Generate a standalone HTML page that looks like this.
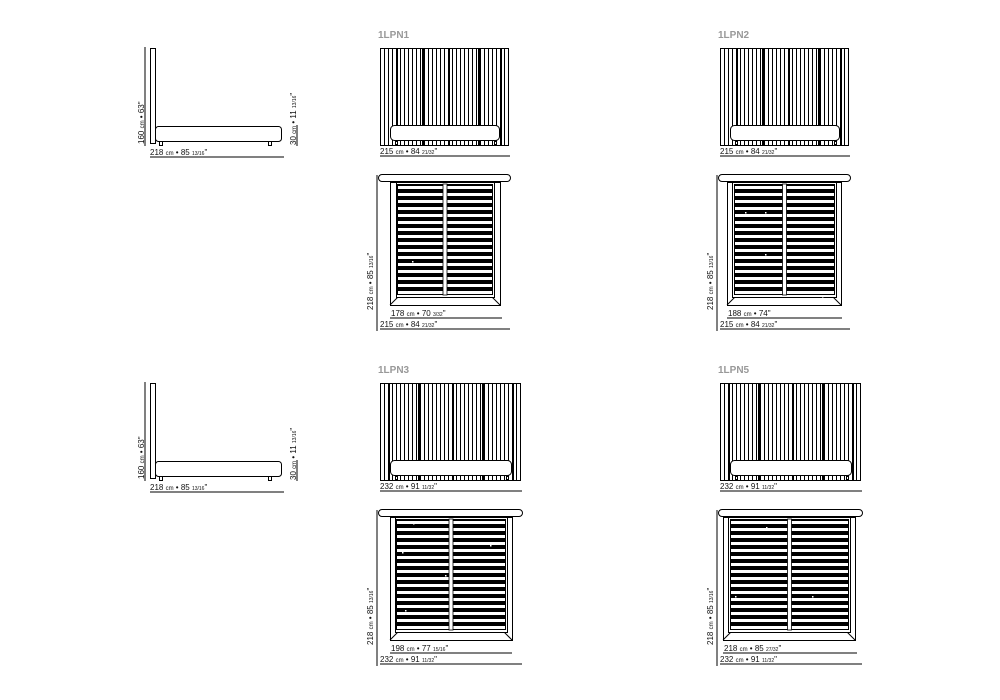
<!DOCTYPE html>
<html><head><meta charset="utf-8"><style>
html,body{margin:0;padding:0;background:#fff;width:1000px;height:700px;overflow:hidden}
svg{display:block}
text{font-family:"Liberation Sans",sans-serif;font-size:8px;fill:#111}
.lbl{font-size:10px;font-weight:bold;fill:#999}
.s{font-size:5px}
.c{font-size:6px}
</style></head><body>
<svg width="1000" height="700" xmlns="http://www.w3.org/2000/svg">
<defs>
<pattern id="vs" patternUnits="userSpaceOnUse" x="0" y="0" width="4" height="10"><rect x="0" y="0" width="1" height="10" fill="#000"/></pattern>
<pattern id="hs" patternUnits="userSpaceOnUse" x="0" y="0" width="10" height="7"><rect x="0" y="0" width="10" height="4" fill="#000"/></pattern>
</defs>
<g stroke="#000" fill="none" stroke-width="1">

<g>
<line x1="145" y1="47" x2="145" y2="146"/>
<rect x="150.5" y="48.5" width="5" height="95" fill="#fff"/>
<rect x="155.5" y="126.5" width="126" height="15" rx="3" fill="#fff"/>
<rect x="159.5" y="141.5" width="3" height="4"/><rect x="268.5" y="141.5" width="3" height="4"/>
<line x1="150" y1="157" x2="284" y2="157"/>
<line x1="297" y1="125" x2="297" y2="146"/>
</g>
<g transform="translate(0,335)">
<line x1="145" y1="47" x2="145" y2="146"/>
<rect x="150.5" y="48.5" width="5" height="95" fill="#fff"/>
<rect x="155.5" y="126.5" width="126" height="15" rx="3" fill="#fff"/>
<rect x="159.5" y="141.5" width="3" height="4"/><rect x="268.5" y="141.5" width="3" height="4"/>
<line x1="150" y1="157" x2="284" y2="157"/>
<line x1="297" y1="125" x2="297" y2="146"/>
</g>

<g transform="translate(380,0)">
<rect x="0.5" y="48.5" width="128" height="97" fill="url(#vs)"/>
<g stroke-width="2"><line x1="17" y1="48" x2="17" y2="145"/><line x1="43" y1="48" x2="43" y2="145"/><line x1="69" y1="48" x2="69" y2="145"/><line x1="99" y1="48" x2="99" y2="145"/><line x1="121" y1="48" x2="121" y2="145"/></g>
<rect x="10.5" y="125.5" width="109" height="15" rx="4" fill="#fff"/>
<rect x="15.5" y="141.5" width="2" height="3" fill="#fff"/><rect x="114.5" y="141.5" width="2" height="3" fill="#fff"/>
<line x1="0" y1="156" x2="130" y2="156"/>
</g>
<g transform="translate(720,0)">
<rect x="0.5" y="48.5" width="128" height="97" fill="url(#vs)"/>
<g stroke-width="2"><line x1="17" y1="48" x2="17" y2="145"/><line x1="43" y1="48" x2="43" y2="145"/><line x1="69" y1="48" x2="69" y2="145"/><line x1="99" y1="48" x2="99" y2="145"/><line x1="121" y1="48" x2="121" y2="145"/></g>
<rect x="10.5" y="125.5" width="109" height="15" rx="4" fill="#fff"/>
<rect x="15.5" y="141.5" width="2" height="3" fill="#fff"/><rect x="114.5" y="141.5" width="2" height="3" fill="#fff"/>
<line x1="0" y1="156" x2="130" y2="156"/>
</g>
<g transform="translate(380,335)">
<rect x="0.5" y="48.5" width="140" height="97" fill="url(#vs)"/>
<g stroke-width="2"><line x1="9" y1="48" x2="9" y2="145"/><line x1="39" y1="48" x2="39" y2="145"/><line x1="73" y1="48" x2="73" y2="145"/><line x1="103" y1="48" x2="103" y2="145"/><line x1="133" y1="48" x2="133" y2="145"/></g>
<rect x="10.5" y="125.5" width="121" height="15" rx="4" fill="#fff"/>
<rect x="15.5" y="141.5" width="2" height="3" fill="#fff"/><rect x="126.5" y="141.5" width="2" height="3" fill="#fff"/>
<line x1="0" y1="156" x2="142" y2="156"/>
</g>
<g transform="translate(720,335)">
<rect x="0.5" y="48.5" width="140" height="97" fill="url(#vs)"/>
<g stroke-width="2"><line x1="9" y1="48" x2="9" y2="145"/><line x1="39" y1="48" x2="39" y2="145"/><line x1="73" y1="48" x2="73" y2="145"/><line x1="103" y1="48" x2="103" y2="145"/><line x1="133" y1="48" x2="133" y2="145"/></g>
<rect x="10.5" y="125.5" width="121" height="15" rx="4" fill="#fff"/>
<rect x="15.5" y="141.5" width="2" height="3" fill="#fff"/><rect x="126.5" y="141.5" width="2" height="3" fill="#fff"/>
<line x1="0" y1="156" x2="142" y2="156"/>
</g>

<g transform="translate(380,0)">
<line x1="-3" y1="175" x2="-3" y2="331"/>
<rect x="10.5" y="182.5" width="110" height="123" fill="#fff"/>
<line x1="10" y1="305" x2="18" y2="297"/><line x1="120" y1="305" x2="112" y2="297"/>
<rect x="16.5" y="182.5" width="98" height="115" fill="#fff"/>
<rect x="18" y="185" width="94" height="109" fill="url(#hs)" stroke="none"/>
<rect x="17.5" y="184.5" width="95" height="110"/>
<rect x="63" y="184" width="4" height="111" fill="#fff" stroke-width="0.8"/>
<rect x="-1.5" y="174.5" width="132" height="7" rx="3.5" fill="#fff"/>
<line x1="10" y1="318" x2="122" y2="318"/>
<line x1="0" y1="329" x2="130" y2="329"/>
</g>
<g transform="translate(720,0)">
<line x1="-3" y1="175" x2="-3" y2="331"/>
<rect x="7.5" y="182.5" width="114" height="123" fill="#fff"/>
<line x1="7" y1="305" x2="15" y2="297"/><line x1="121" y1="305" x2="113" y2="297"/>
<rect x="12.5" y="182.5" width="104" height="115" fill="#fff"/>
<rect x="15" y="185" width="99" height="109" fill="url(#hs)" stroke="none"/>
<rect x="14.5" y="184.5" width="100" height="110"/>
<rect x="62.5" y="184" width="4" height="111" fill="#fff" stroke-width="0.8"/>
<rect x="-1.5" y="174.5" width="132" height="7" rx="3.5" fill="#fff"/>
<line x1="7" y1="318" x2="122" y2="318"/>
<line x1="0" y1="329" x2="130" y2="329"/>
</g>
<g transform="translate(380,335)">
<line x1="-3" y1="175" x2="-3" y2="331"/>
<rect x="10.5" y="182.5" width="122" height="123" fill="#fff"/>
<line x1="10" y1="305" x2="18" y2="297"/><line x1="132" y1="305" x2="124" y2="297"/>
<rect x="15.5" y="182.5" width="112" height="115" fill="#fff"/>
<rect x="17" y="185" width="108" height="109" fill="url(#hs)" stroke="none"/>
<rect x="16.5" y="184.5" width="109" height="110"/>
<rect x="69" y="184" width="4" height="111" fill="#fff" stroke-width="0.8"/>
<rect x="-1.5" y="174.5" width="144" height="7" rx="3.5" fill="#fff"/>
<line x1="10" y1="318" x2="132" y2="318"/>
<line x1="0" y1="329" x2="142" y2="329"/>
</g>
<g transform="translate(720,335)">
<line x1="-3" y1="175" x2="-3" y2="331"/>
<rect x="3.5" y="182.5" width="132" height="123" fill="#fff"/>
<line x1="3" y1="305" x2="11" y2="297"/><line x1="135" y1="305" x2="127" y2="297"/>
<rect x="8.5" y="182.5" width="122" height="115" fill="#fff"/>
<rect x="11" y="185" width="117" height="109" fill="url(#hs)" stroke="none"/>
<rect x="10.5" y="184.5" width="118" height="110"/>
<rect x="67.5" y="184" width="4" height="111" fill="#fff" stroke-width="0.8"/>
<rect x="-1.5" y="174.5" width="144" height="7" rx="3.5" fill="#fff"/>
<line x1="3" y1="318" x2="137" y2="318"/>
<line x1="0" y1="329" x2="142" y2="329"/>
</g>
</g>

<g fill="#fff">
<rect x="400" y="186" width="1.5" height="1.5"/><rect x="425" y="186" width="1.5" height="1.5"/><rect x="410" y="193" width="1.5" height="1.5"/><rect x="465" y="200" width="1.5" height="1.5"/><rect x="480" y="256" width="1.5" height="1.5"/><rect x="412" y="261" width="1.5" height="1.5"/><rect x="462" y="277" width="1.5" height="1.5"/>
<rect x="745" y="212" width="1.5" height="1.5"/><rect x="765" y="212" width="1.5" height="1.5"/><rect x="820" y="200" width="1.5" height="1.5"/><rect x="765" y="254" width="1.5" height="1.5"/><rect x="822" y="296" width="1.5" height="1.5"/>
<rect x="413" y="523" width="1.5" height="1.5"/><rect x="402" y="552" width="1.5" height="1.5"/><rect x="445" y="575" width="1.5" height="1.5"/><rect x="490" y="545" width="1.5" height="1.5"/><rect x="405" y="610" width="1.5" height="1.5"/>
<rect x="766" y="527" width="1.5" height="1.5"/><rect x="735" y="596" width="1.5" height="1.5"/><rect x="757" y="563" width="1.5" height="1.5"/><rect x="812" y="596" width="1.5" height="1.5"/><rect x="825" y="635" width="1.5" height="1.5"/>
</g>

<text x="150" y="155">218 <tspan class="c">cm</tspan> • 85 <tspan class="s">13/16</tspan>"</text>
<text x="144" y="144" transform="rotate(-90 144 144)">160 <tspan class="c">cm</tspan> • 63"</text>
<text x="296" y="145" transform="rotate(-90 296 145)">30 <tspan class="c">cm</tspan> • 11 <tspan class="s">13/16</tspan>"</text>
<text x="150" y="490">218 <tspan class="c">cm</tspan> • 85 <tspan class="s">13/16</tspan>"</text>
<text x="144" y="479" transform="rotate(-90 144 479)">160 <tspan class="c">cm</tspan> • 63"</text>
<text x="296" y="480" transform="rotate(-90 296 480)">30 <tspan class="c">cm</tspan> • 11 <tspan class="s">13/16</tspan>"</text>

<text class="lbl" x="378" y="38">1LPN1</text>
<text class="lbl" x="718" y="38">1LPN2</text>
<text class="lbl" x="378" y="373">1LPN3</text>
<text class="lbl" x="718" y="373">1LPN5</text>

<text x="380" y="154">215 <tspan class="c">cm</tspan> • 84 <tspan class="s">21/32</tspan>"</text>
<text x="720" y="154">215 <tspan class="c">cm</tspan> • 84 <tspan class="s">21/32</tspan>"</text>
<text x="380" y="489">232 <tspan class="c">cm</tspan> • 91 <tspan class="s">11/32</tspan>"</text>
<text x="720" y="489">232 <tspan class="c">cm</tspan> • 91 <tspan class="s">11/32</tspan>"</text>

<text x="373" y="310" transform="rotate(-90 373 310)">218 <tspan class="c">cm</tspan> • 85 <tspan class="s">13/16</tspan>"</text>
<text x="713" y="310" transform="rotate(-90 713 310)">218 <tspan class="c">cm</tspan> • 85 <tspan class="s">13/16</tspan>"</text>
<text x="373" y="645" transform="rotate(-90 373 645)">218 <tspan class="c">cm</tspan> • 85 <tspan class="s">13/16</tspan>"</text>
<text x="713" y="645" transform="rotate(-90 713 645)">218 <tspan class="c">cm</tspan> • 85 <tspan class="s">13/16</tspan>"</text>

<text x="391" y="316">178 <tspan class="c">cm</tspan> • 70 <tspan class="s">3/32</tspan>"</text>
<text x="380" y="327">215 <tspan class="c">cm</tspan> • 84 <tspan class="s">21/32</tspan>"</text>
<text x="728" y="316">188 <tspan class="c">cm</tspan> • 74"</text>
<text x="720" y="327">215 <tspan class="c">cm</tspan> • 84 <tspan class="s">21/32</tspan>"</text>
<text x="391" y="651">198 <tspan class="c">cm</tspan> • 77 <tspan class="s">15/16</tspan>"</text>
<text x="380" y="662">232 <tspan class="c">cm</tspan> • 91 <tspan class="s">11/32</tspan>"</text>
<text x="724" y="651">218 <tspan class="c">cm</tspan> • 85 <tspan class="s">27/32</tspan>"</text>
<text x="720" y="662">232 <tspan class="c">cm</tspan> • 91 <tspan class="s">11/32</tspan>"</text>
</svg>
</body></html>
